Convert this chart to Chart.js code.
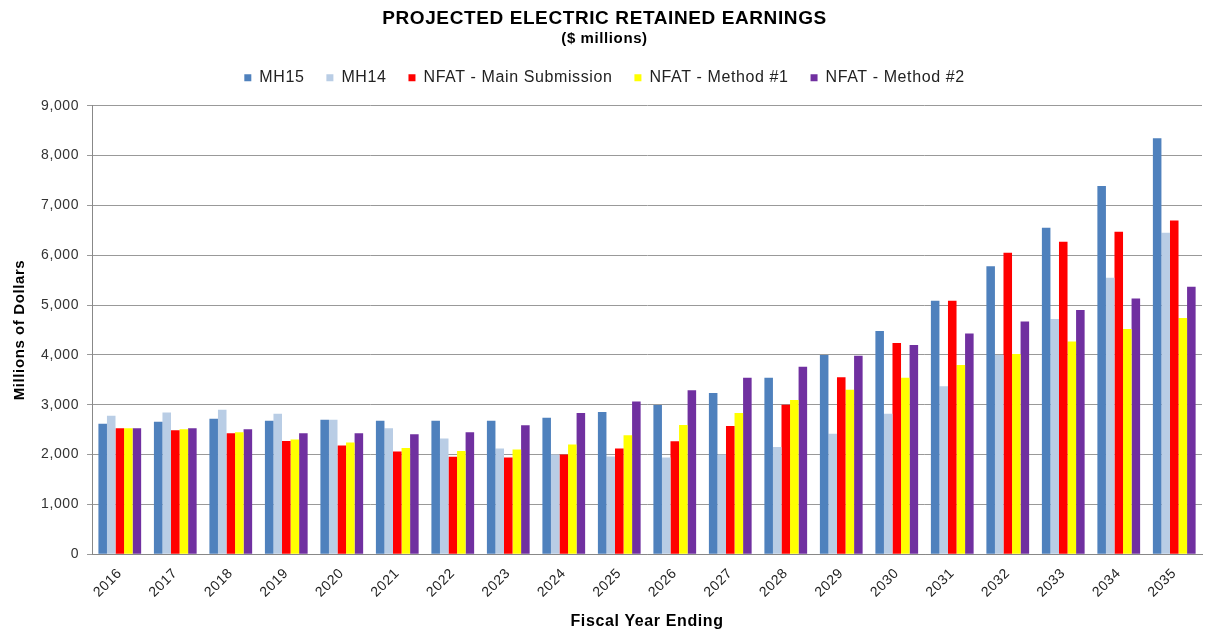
<!DOCTYPE html>
<html>
<head>
<meta charset="utf-8">
<script src="https://cdn.jsdelivr.net/npm/chart.js@4/dist/chart.umd.min.js"></script>
<style>
  html, body { margin: 0; padding: 0; background: #fff; }
  #wrap { width: 1218px; height: 632px; position: relative; }
</style>
</head>
<body>
<div id="wrap"><canvas id="earningsChart"></canvas></div>
<script>
// fiscal years on the x axis
var years = ['2016', '2017', '2018', '2019', '2020', '2021', '2022', '2023', '2024', '2025',
             '2026', '2027', '2028', '2029', '2030', '2031', '2032', '2033', '2034', '2035'];

// retained earnings, $ millions
var mh15 = [2620, 2660, 2720, 2680, 2700, 2680, 2680, 2680, 2740, 2855,
            2995, 3235, 3540, 4000, 4480, 5085, 5780, 6550, 7390, 8350];
var mh14 = [2780, 2845, 2900, 2820, 2700, 2530, 2320, 2120, 2000, 1960,
            1940, 2000, 2150, 2420, 2820, 3370, 4000, 4720, 5550, 6450];
var nfatMain = [2530, 2490, 2430, 2270, 2180, 2060, 1955, 1940, 2000, 2120,
                2265, 2575, 3000, 3550, 4240, 5085, 6050, 6270, 6470, 6700];
var nfatM1 = [2530, 2510, 2450, 2300, 2240, 2130, 2070, 2100, 2200, 2390,
              2595, 2835, 3095, 3300, 3540, 3800, 4020, 4270, 4520, 4740];
var nfatM2 = [2530, 2530, 2510, 2430, 2430, 2410, 2450, 2590, 2835, 3065,
              3290, 3540, 3760, 3985, 4200, 4430, 4670, 4900, 5130, 5370];

var yTicks = [0, 1000, 2000, 3000, 4000, 5000, 6000, 7000, 8000, 9000];

// the original text is a bit wider than Liberation Sans, so space the letters out
// and leave a little more room under the legend
var tweaks = {
  id: 'tweaks',
  afterInit: function (chart) {
    var lg = chart.legend;
    var fit = lg.fit;
    lg.fit = function () {
      fit.call(this);
      this.height += 10;
    };
  },
  beforeUpdate: function (chart) { chart.ctx.letterSpacing = '0.6px'; },
  beforeDraw: function (chart) { chart.ctx.letterSpacing = '0.6px'; }
};

var ctx = document.getElementById('earningsChart').getContext('2d');
var myChart = new Chart(ctx, {
  type: 'bar',
  data: {
    labels: years,
    datasets: [
      { label: 'MH15', data: mh15, backgroundColor: '#4F81BD' },
      { label: 'MH14', data: mh14, backgroundColor: '#B9CDE5' },
      { label: 'NFAT - Main Submission', data: nfatMain, backgroundColor: '#FF0000' },
      { label: 'NFAT - Method #1', data: nfatM1, backgroundColor: '#FFFF00' },
      { label: 'NFAT - Method #2', data: nfatM2, backgroundColor: '#7030A0' }
    ]
  },
  plugins: [tweaks],
  options: {
    responsive: true,
    maintainAspectRatio: false,
    animation: false,
    layout: { padding: { left: 7, right: 16, top: 3, bottom: 0 } },
    datasets: { bar: { categoryPercentage: 0.77, barPercentage: 1.0 } },
    plugins: {
      title: {
        display: true,
        text: 'PROJECTED ELECTRIC RETAINED EARNINGS',
        color: '#000',
        font: { family: 'Liberation Sans', size: 19, weight: 'bold' },
        padding: { top: 4, bottom: 0 }
      },
      subtitle: {
        display: true,
        text: '($ millions)',
        color: '#000',
        font: { family: 'Liberation Sans', size: 15, weight: 'bold' },
        padding: { top: 0, bottom: 0 }
      },
      legend: {
        position: 'top',
        labels: {
          boxWidth: 7,
          boxHeight: 7,
          padding: 22,
          color: '#222',
          font: { family: 'Liberation Sans', size: 16 }
        }
      },
      tooltip: { enabled: false }
    },
    scales: {
      x: {
        grid: { display: false },
        border: { color: '#888' },
        ticks: {
          color: '#222',
          maxRotation: 45,
          minRotation: 45,
          font: { family: 'Liberation Sans', size: 14 }
        },
        title: {
          display: true,
          text: 'Fiscal Year Ending',
          color: '#000',
          font: { family: 'Liberation Sans', size: 16, weight: 'bold' },
          padding: { top: 8, bottom: 1 }
        }
      },
      y: {
        min: 0,
        max: 9000,
        afterBuildTicks: function (axis) {
          axis.ticks = yTicks.map(function (v) { return { value: v }; });
        },
        grid: { color: '#999', tickLength: 5 },
        border: { color: '#888' },
        ticks: {
          color: '#333',
          padding: 8,
          font: { family: 'Liberation Sans', size: 14 },
          callback: function (v) { return v.toLocaleString('en-US'); }
        },
        title: {
          display: true,
          text: 'Millions of Dollars',
          color: '#000',
          font: { family: 'Liberation Sans', size: 15, weight: 'bold' },
          padding: { bottom: 4 }
        }
      }
    }
  }
});
</script>
</body>
</html>
